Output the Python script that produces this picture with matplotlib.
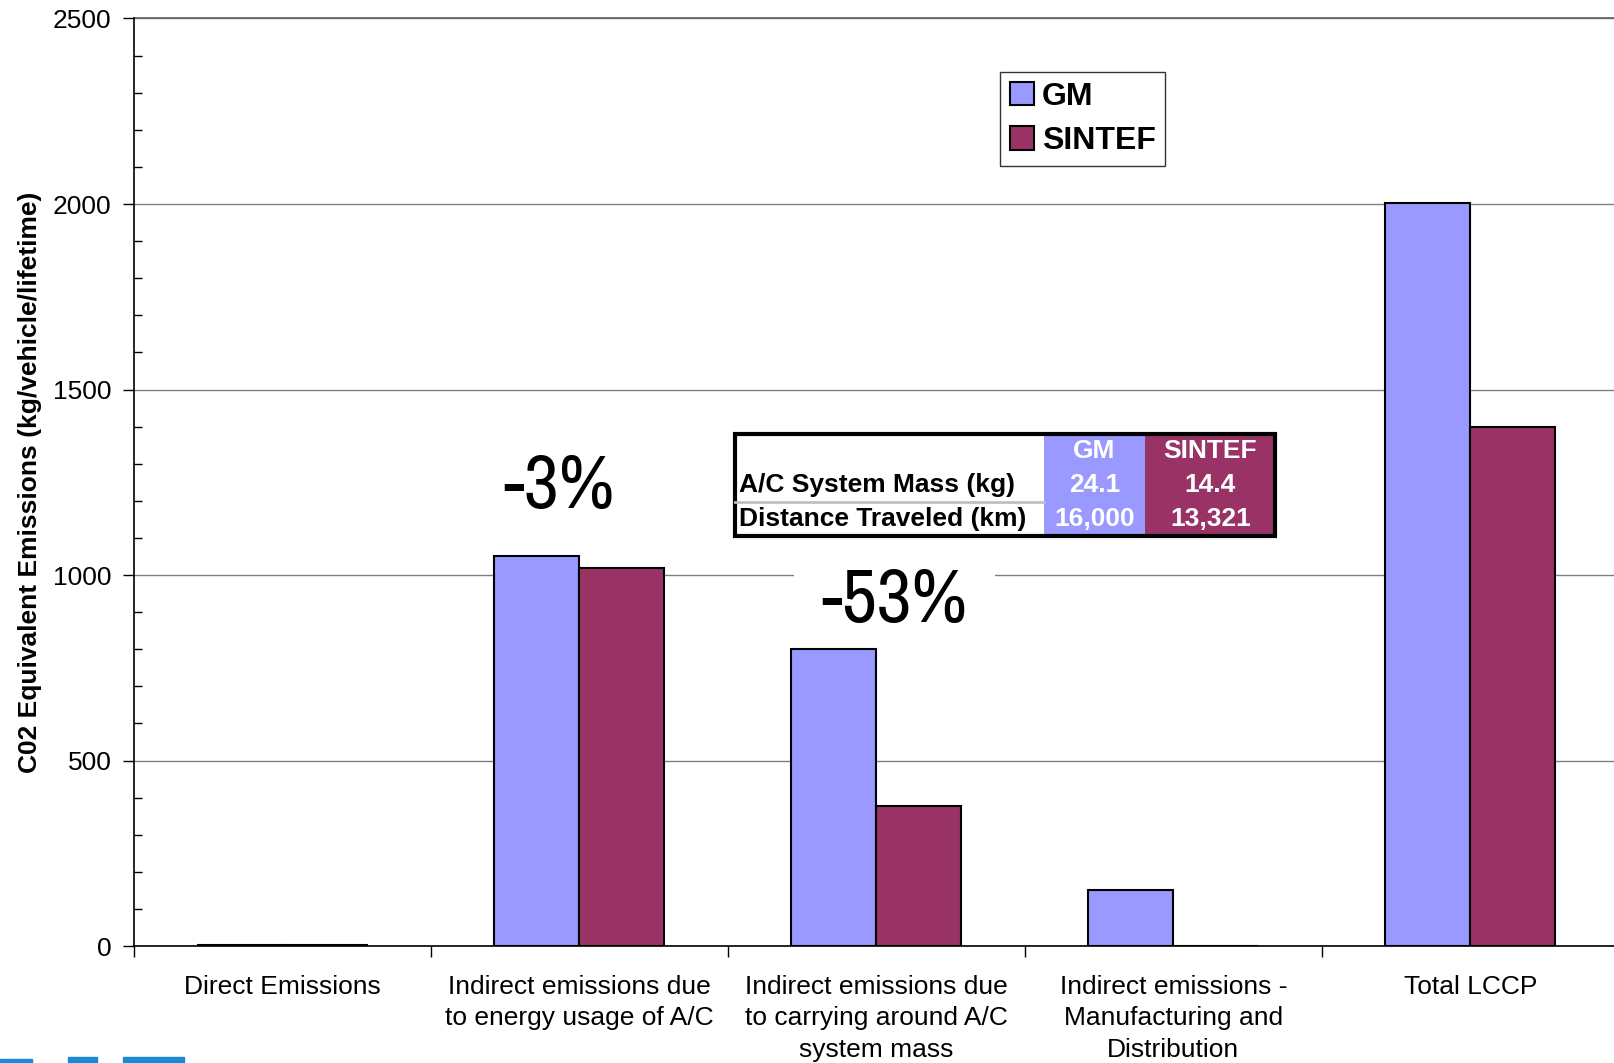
import matplotlib.pyplot as plt
import matplotlib.font_manager as fm
import numpy as np
from matplotlib.patches import Rectangle

categories = ['Direct Emissions', 'Indirect emissions due\nto energy usage of A/C',
              'Indirect emissions due\nto carrying around A/C\nsystem mass',
              'Indirect emissions -\nManufacturing and\nDistribution', 'Total LCCP']
gm_values = [3, 1050, 800, 150, 2003]
sintef_values = [3, 1020, 377, 0, 1400]
series_names = ['GM', 'SINTEF']
table_rows = ['A/C System Mass (kg)', 'Distance Traveled (km)']
table_gm = ['24.1', '16,000']
table_sintef = ['14.4', '13,321']
annotations = [(0.93, 1238, '-3%'), (2.06, 930, '-53%')]

GM_COLOR = '#9999FF'
SINTEF_COLOR = '#993366'
FS = 19

# keep the narrow variant out of the normal lookup, use it only for the big labels
narrow = [f.fname for f in fm.fontManager.ttflist if 'Narrow' in f.fname and 'Bold' not in f.fname
          and 'Italic' not in f.fname]
fm.fontManager.ttflist = [f for f in fm.fontManager.ttflist if 'Narrow' not in f.fname]
plt.rcParams['font.family'] = ['Liberation Sans', 'DejaVu Sans']

fig = plt.figure(figsize=(16.14, 10.63), dpi=100)
ax = fig.add_axes([0.083, 0.110, 0.920, 0.8726])

x = np.arange(len(categories))
w = 0.286
ax.bar(x - w / 2, gm_values, w, color=GM_COLOR, edgecolor='black', linewidth=1.5, label=series_names[0], zorder=3)
ax.bar(x + w / 2, sintef_values, w, color=SINTEF_COLOR, edgecolor='black', linewidth=1.5, label=series_names[1], zorder=3)

ax.set_xlim(-0.5, len(categories) - 0.5)
ax.set_ylim(0, 2500)
ax.set_yticks(np.arange(0, 2501, 500))
ax.set_yticks(np.arange(0, 2501, 100), minor=True)
ax.tick_params(axis='y', which='major', direction='out', length=8, width=1, labelsize=FS, pad=8)
ax.tick_params(axis='y', which='minor', direction='in', length=6, width=1)
ax.set_xticks(np.arange(-0.5, len(categories), 1.0))
ax.set_xticklabels([])
ax.tick_params(axis='x', which='major', direction='out', length=8, width=1)
for i, c in enumerate(categories):
    ax.text(i, -0.031, c, transform=ax.get_xaxis_transform(), ha='center', va='top',
            fontsize=FS, linespacing=1.4)

ax.grid(axis='y', color='#808080', linewidth=1, zorder=0)
ax.set_axisbelow(True)
for s in ['top', 'right']:
    ax.spines[s].set_visible(False)
ax.spines['left'].set_linewidth(1.2)
ax.spines['bottom'].set_linewidth(1.2)
ax.axhline(2500, color='#606060', linewidth=1.2, clip_on=False)

ax.set_ylabel('C02 Equivalent Emissions (kg/vehicle/lifetime)', fontsize=FS, fontweight='bold', labelpad=8)

# percent annotations (white box only breaks the gridline, bars stay on top)
for xi, yi, txt in annotations:
    bbox = dict(facecolor='white', edgecolor='none', pad=20) if txt == '-53%' else None
    kw = dict(fname=narrow[0]) if narrow else dict(family='Liberation Sans')
    ax.text(xi, yi, txt, ha='center', va='center', fontproperties=fm.FontProperties(size=55, **kw),
            bbox=bbox, zorder=2.5)

# legend
leg = ax.legend(loc='upper left', bbox_to_anchor=(0.5835, 0.942), fontsize=23, frameon=True,
                fancybox=False, edgecolor='black', handlelength=0.75, handleheight=0.75,
                handletextpad=0.25, borderpad=0.3, labelspacing=0.45, borderaxespad=0)
for t in leg.get_texts():
    t.set_fontweight('bold')
leg.get_frame().set_linewidth(1)

# data table
tb = [0.4047, 0.4417, 0.3638, 0.110]
cell_text = [['', series_names[0], series_names[1]]] + \
            [[r, g, s] for r, g, s in zip(table_rows, table_gm, table_sintef)]
tab = ax.table(cellText=cell_text, cellLoc='center', colWidths=[300, 99, 126],
               bbox=tb, zorder=5)
tab.auto_set_font_size(False)
for (r, c), cell in tab.get_celld().items():
    cell.set_linewidth(0)
    cell.set_edgecolor('none')
    txt = cell.get_text()
    txt.set_fontsize(FS)
    txt.set_fontweight('bold')
    if c == 0:
        cell.set_facecolor('white')
        txt.set_ha('left')
        cell.PAD = 0.012
        txt.set_color('black')
    elif c == 1:
        cell.set_facecolor(GM_COLOR)
        txt.set_color('white')
    else:
        cell.set_facecolor(SINTEF_COLOR)
        txt.set_color('white')
ax.add_patch(Rectangle((tb[0], tb[1]), tb[2], tb[3], transform=ax.transAxes, fill=False,
                       edgecolor='black', linewidth=3, zorder=6, clip_on=False))
ax.plot([tb[0], tb[0] + tb[2] * 300 / 525], [tb[1] + tb[3] / 3] * 2, transform=ax.transAxes,
        color='#c0c0c0', linewidth=2, zorder=6, clip_on=False)

# partial logo at bottom left
fig.patches.append(Rectangle((0.042, 0.0), 0.018, 0.006, transform=fig.transFigure, color='#1a8ad4'))
fig.patches.append(Rectangle((0.076, 0.0), 0.038, 0.006, transform=fig.transFigure, color='#1a8ad4'))
fig.patches.append(Rectangle((0.0, 0.0), 0.02, 0.004, transform=fig.transFigure, color='#1a8ad4'))

fig.savefig('out.png', dpi=100)
